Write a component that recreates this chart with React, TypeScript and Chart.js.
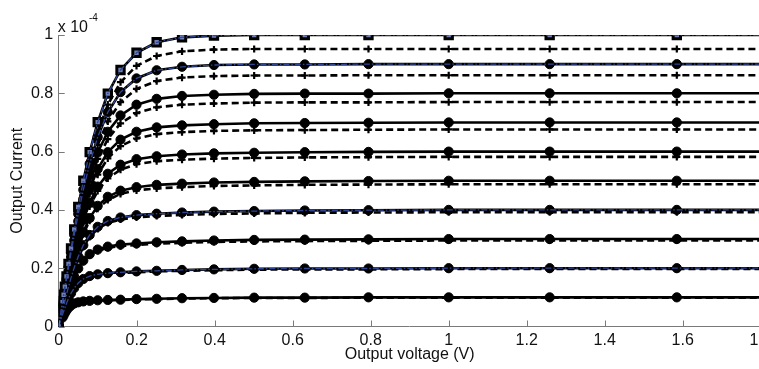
import React, { useEffect, useRef } from 'react';
import { Chart, registerables } from 'chart.js';

Chart.register(...registerables);

// Output voltage (V) sample points (log-spaced, as in the reference markers)
const VOLTAGE = [0, 0.01, 0.0126, 0.0158, 0.02, 0.0251, 0.0316, 0.0398, 0.0501, 0.0631, 0.0794, 0.1, 0.1259, 0.1585, 0.1995, 0.2512, 0.3162, 0.3981, 0.5012, 0.631, 0.7943, 1.0, 1.2589, 1.5849, 1.9953];

// Output current (x 1e-4 A), solid curves
const SOLID_100 = [0, .087, .109, .137, .172, .215, .268, .333, .410, .500, .598, .701, .799, .880, .939, .975, .992, .998, 1, 1, 1, 1, 1, 1, 1];
const SOLID_90 = [0, .082, .103, .129, .163, .203, .253, .314, .386, .469, .558, .650, .735, .804, .851, .879, .891, .897, .899, .899, .900, .9, .9, .9, .9];
const SOLID_80 = [0, .077, .097, .122, .153, .191, .238, .295, .361, .436, .517, .597, .668, .724, .761, .781, .791, .795, .798, .799, .799, .8, .8, .8, .8];
const SOLID_70 = [0, .072, .091, .114, .143, .179, .222, .274, .335, .402, .472, .540, .598, .641, .668, .683, .690, .694, .697, .698, .699, .7, .7, .7, .7];
const SOLID_60 = [0, .067, .085, .106, .133, .165, .205, .253, .307, .366, .425, .480, .524, .555, .574, .584, .590, .594, .596, .598, .599, .6, .6, .6, .6];
const SOLID_50 = [0, .062, .078, .097, .122, .151, .187, .228, .275, .324, .372, .414, .445, .466, .478, .486, .490, .494, .496, .498, .499, .5, .5, .5, .5];
const SOLID_40 = [0, .056, .070, .087, .110, .136, .167, .202, .240, .279, .314, .342, .362, .374, .382, .387, .391, .394, .396, .398, .399, .4, .4, .4, .4];
const SOLID_30 = [0, .049, .062, .077, .096, .118, .143, .171, .199, .226, .248, .264, .274, .281, .285, .289, .292, .295, .297, .298, .299, .3, .3, .3, .3];
const SOLID_20 = [0, .042, .052, .064, .079, .096, .114, .132, .149, .163, .173, .179, .183, .186, .189, .191, .194, .196, .198, .199, .199, .2, .2, .2, .2];
const SOLID_10 = [0, .031, .038, .046, .055, .064, .072, .079, .083, .086, .088, .090, .091, .092, .094, .095, .097, .098, .099, .099, .1, .1, .1, .1, .1];

// Output current (x 1e-4 A), dashed curves
const DASHED_100 = [0, .083, .104, .130, .164, .205, .255, .317, .390, .476, .569, .667, .761, .838, .894, .928, .944, .950, .952, .952, .952, .952, .952, .952, .952];
const DASHED_90 = [0, .079, .099, .124, .156, .194, .243, .301, .370, .449, .535, .623, .704, .770, .815, .842, .854, .859, .861, .861, .862, .862, .862, .862, .862];
const DASHED_80 = [0, .074, .093, .117, .148, .184, .229, .284, .347, .420, .498, .575, .643, .697, .732, .752, .761, .765, .768, .769, .769, .77, .77, .77, .77];
const DASHED_70 = [0, .070, .088, .110, .138, .172, .214, .265, .323, .388, .456, .521, .577, .619, .645, .660, .667, .671, .673, .674, .675, .676, .676, .676, .676];
const DASHED_60 = [0, .065, .082, .103, .129, .161, .199, .245, .297, .355, .412, .465, .508, .538, .557, .567, .572, .576, .578, .580, .581, .582, .582, .582, .582];
const DASHED_50 = [0, .060, .076, .095, .119, .147, .182, .223, .268, .317, .363, .404, .434, .455, .467, .474, .478, .482, .484, .486, .487, .488, .488, .488, .488];
const DASHED_40 = [0, .055, .069, .086, .107, .133, .163, .198, .235, .273, .307, .335, .355, .367, .374, .379, .383, .386, .388, .390, .391, .392, .392, .392, .392];
const DASHED_30 = [0, .048, .061, .076, .094, .116, .141, .168, .196, .222, .244, .259, .270, .276, .280, .284, .287, .290, .292, .293, .294, .295, .295, .295, .295];
const DASHED_20 = [0, .041, .051, .063, .078, .094, .112, .130, .147, .161, .170, .176, .180, .183, .186, .189, .191, .193, .195, .196, .196, .197, .197, .197, .197];
const DASHED_10 = [0, .031, .038, .046, .054, .063, .071, .078, .082, .085, .087, .089, .090, .091, .093, .094, .096, .097, .098, .098, .099, .099, .099, .099, .099];

const SOLID_SERIES = [SOLID_100, SOLID_90, SOLID_80, SOLID_70, SOLID_60, SOLID_50, SOLID_40, SOLID_30, SOLID_20, SOLID_10];
const DASHED_SERIES = [DASHED_100, DASHED_90, DASHED_80, DASHED_70, DASHED_60, DASHED_50, DASHED_40, DASHED_30, DASHED_20, DASHED_10];
// dash-dot (blue) traces visible on top of these solid curves
const DASHDOT_SERIES = [SOLID_100, SOLID_90, SOLID_40, SOLID_20];

const X_TICKS = [0, 0.2, 0.4, 0.6, 0.8, 1.0, 1.2, 1.4, 1.6, 1.8];
const X_TICK_LABELS = ['0', '0.2', '0.4', '0.6', '0.8', '1', '1.2', '1.4', '1.6', '1.8'];
const Y_TICKS = [0, 0.2, 0.4, 0.6, 0.8, 1.0];
const Y_TICK_LABELS = ['0', '0.2', '0.4', '0.6', '0.8', '1'];

const X_TITLE = 'Output voltage (V)';
const Y_TITLE = 'Output Current';
const EXPONENT_BASE = 'x 10';
const EXPONENT_POWER = '-4';

const FONT = "'Liberation Sans', Arial, Helvetica, sans-serif";
const AXIS_COLOR = '#7a7a7a';
const TEXT_COLOR = '#111';

const toPoints = (arr: number[]) => VOLTAGE.map((x, i) => ({ x, y: arr[i] }));

const overlayPlugin = {
  id: 'overlay',
  afterDraw(chart: any) {
    const { ctx, chartArea, scales } = chart;
    ctx.save();
    ctx.strokeStyle = AXIS_COLOR;
    ctx.lineWidth = 1;
    X_TICKS.forEach((v) => {
      const px = Math.round(scales.x.getPixelForValue(v)) + 0.5;
      ctx.beginPath();
      ctx.moveTo(px, chartArea.bottom);
      ctx.lineTo(px, chartArea.bottom - 6);
      ctx.stroke();
    });
    Y_TICKS.forEach((v) => {
      const py = Math.round(scales.y.getPixelForValue(v)) + 0.5;
      ctx.beginPath();
      ctx.moveTo(chartArea.left, py);
      ctx.lineTo(chartArea.left + 6, py);
      ctx.stroke();
    });
    ctx.fillStyle = TEXT_COLOR;
    ctx.textBaseline = 'alphabetic';
    ctx.textAlign = 'left';
    ctx.font = `16px ${FONT}`;
    ctx.fillText(EXPONENT_BASE, chartArea.left - 1, 31.5);
    const w = ctx.measureText(EXPONENT_BASE).width;
    ctx.font = `10px ${FONT}`;
    ctx.fillText(EXPONENT_POWER, chartArea.left - 1 + w + 1, 21);
    ctx.restore();
  },
};

export default function App() {
  const canvasRef = useRef<HTMLCanvasElement | null>(null);

  useEffect(() => {
    const canvas = canvasRef.current;
    if (!canvas) return;

    const datasets: any[] = [];
    DASHDOT_SERIES.forEach((arr) => {
      datasets.push({
        data: toPoints(arr),
        borderColor: '#2f4596',
        borderWidth: 1.3,
        borderDash: [6, 2, 1.5, 2],
        pointRadius: 0,
        order: 0,
      });
    });
    SOLID_SERIES.forEach((arr, i) => {
      const isTop = i === 0;
      datasets.push({
        data: toPoints(arr),
        borderColor: '#000',
        borderWidth: 2.6,
        pointStyle: isTop ? 'rect' : 'circle',
        pointRadius: isTop ? 5.2 : 4.6,
        pointBorderWidth: isTop ? 3 : 1,
        pointBorderColor: '#000',
        pointBackgroundColor: isTop ? '#6f80b8' : '#000',
        order: 1,
      });
    });
    DASHED_SERIES.forEach((arr) => {
      datasets.push({
        data: toPoints(arr),
        borderColor: '#000',
        borderWidth: 2.6,
        borderDash: [7, 4],
        pointStyle: 'cross',
        pointRadius: 3.6,
        pointBorderWidth: 2.2,
        pointBorderColor: '#000',
        pointBackgroundColor: '#000',
        order: 2,
      });
    });

    const chart = new Chart(canvas, {
      type: 'line',
      data: { datasets },
      options: {
        responsive: false,
        maintainAspectRatio: false,
        animation: false,
        layout: { padding: { top: 35, right: 19.3, bottom: 0, left: 0 } },
        plugins: {
          legend: { display: false },
          tooltip: { enabled: false },
        },
        elements: { line: { tension: 0 } },
        scales: {
          x: {
            type: 'linear',
            min: 0,
            max: 1.8,
            afterBuildTicks: (s: any) => {
              s.ticks = X_TICKS.map((value) => ({ value }));
            },
            afterFit: (s: any) => {
              s.height = 42.5;
            },
            ticks: {
              autoSkip: false,
              maxRotation: 0,
              padding: 4,
              color: TEXT_COLOR,
              font: { family: FONT, size: 16 },
              callback: (_v: any, i: number) => X_TICK_LABELS[i],
            },
            grid: { display: false, drawTicks: false },
            border: { display: true, color: AXIS_COLOR, width: 1 },
            title: {
              display: true,
              text: X_TITLE,
              color: TEXT_COLOR,
              font: { family: FONT, size: 16 },
              padding: { top: 0, bottom: 4.4 },
            },
          },
          y: {
            type: 'linear',
            min: 0,
            max: 1,
            afterBuildTicks: (s: any) => {
              s.ticks = Y_TICKS.map((value) => ({ value }));
            },
            afterFit: (s: any) => {
              s.width = 58.7;
            },
            ticks: {
              autoSkip: false,
              padding: 5.5,
              color: TEXT_COLOR,
              font: { family: FONT, size: 16 },
              callback: (_v: any, i: number) => Y_TICK_LABELS[i],
            },
            grid: { display: false, drawTicks: false },
            border: { display: true, color: AXIS_COLOR, width: 1 },
            title: {
              display: true,
              text: Y_TITLE,
              color: TEXT_COLOR,
              font: { family: FONT, size: 16 },
              padding: { top: 8.4, bottom: 0 },
            },
          },
        },
      } as any,
      plugins: [overlayPlugin],
    });

    return () => chart.destroy();
  }, []);

  return (
    <div
      style={{
        position: 'fixed',
        left: 0,
        top: 0,
        width: 759,
        height: 369,
        overflow: 'hidden',
        background: '#fff',
      }}
    >
      <canvas ref={canvasRef} width={780} height={369} style={{ width: 780, height: 369, display: 'block' }} />
    </div>
  );
}
